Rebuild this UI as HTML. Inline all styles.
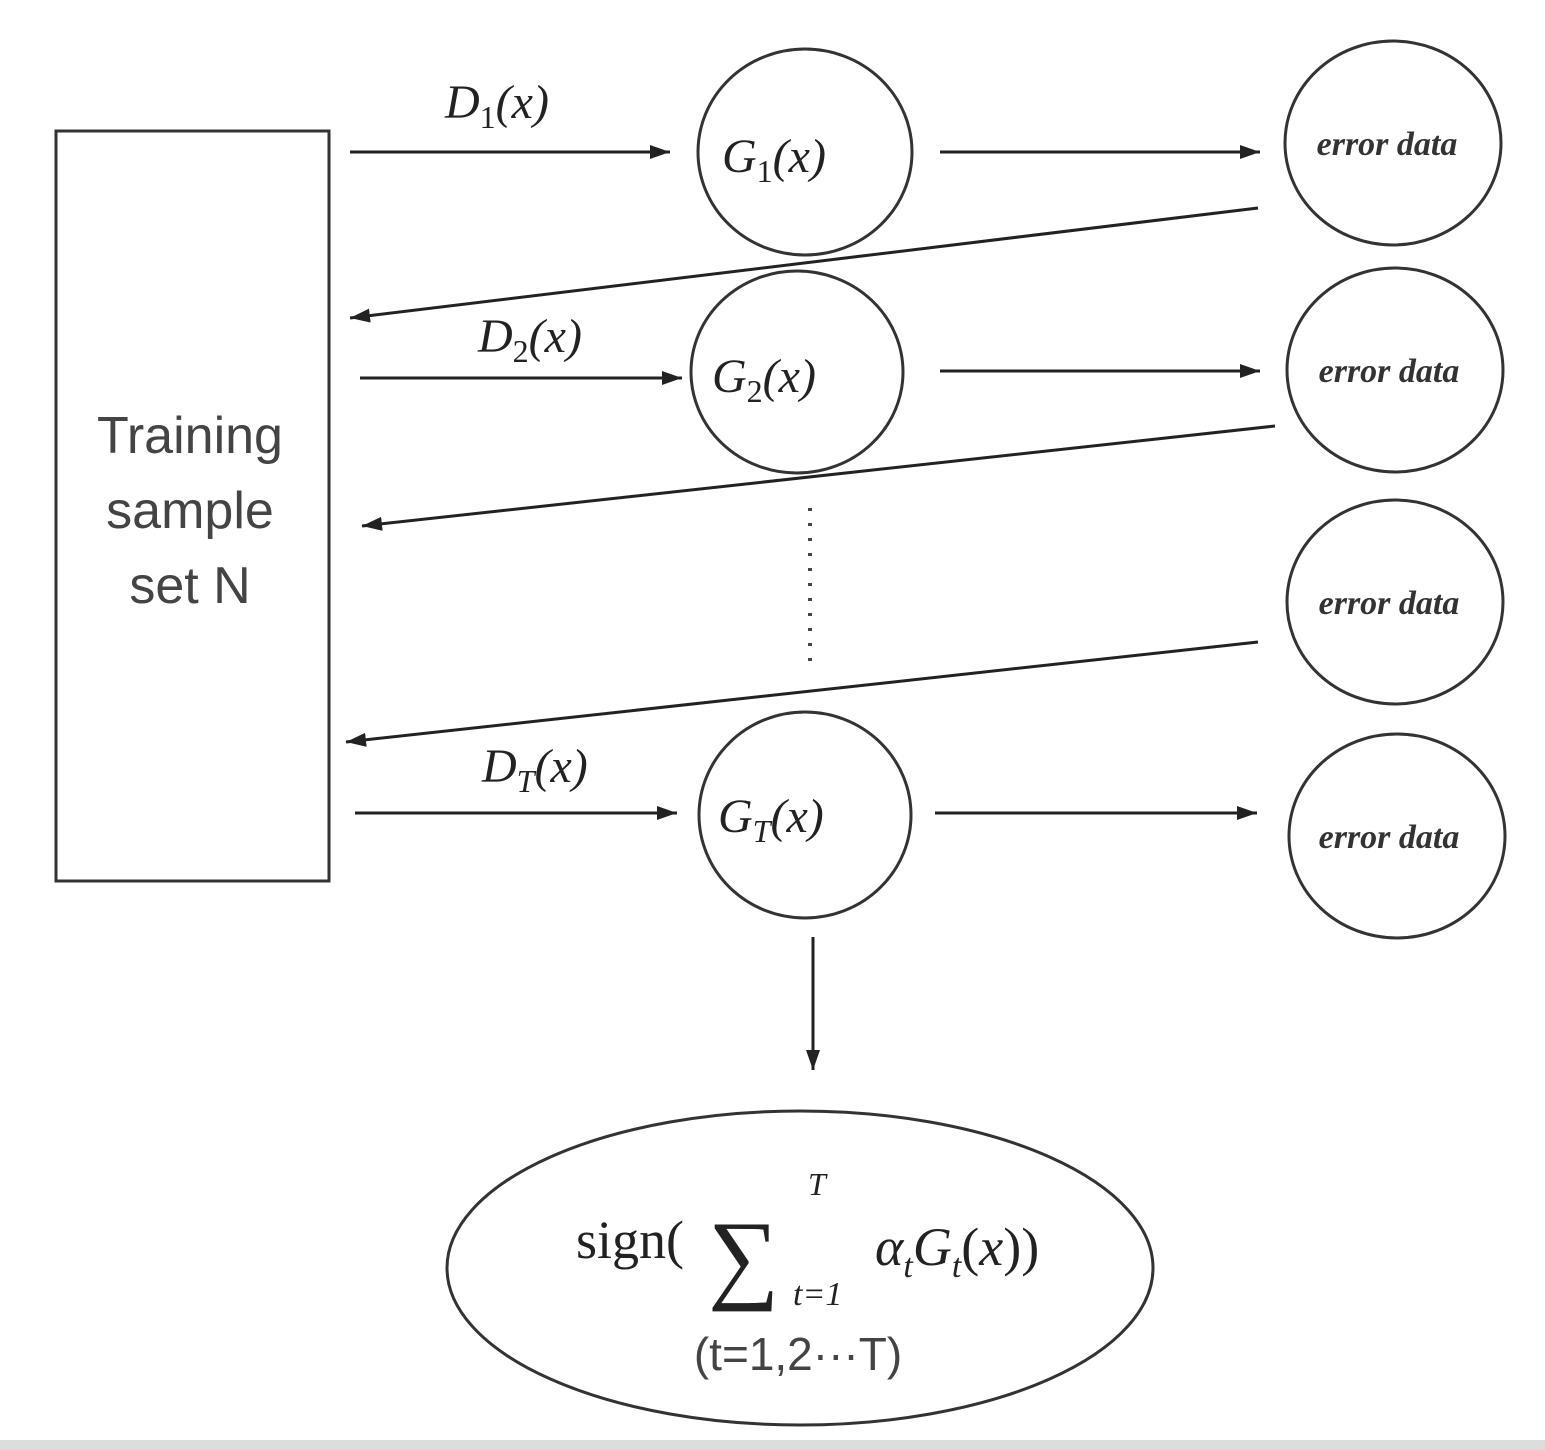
<!DOCTYPE html>
<html><head><meta charset="utf-8"><style>
html,body{margin:0;padding:0;background:#fff;}
svg{display:block}
.m{font-family:"Liberation Serif",serif;font-style:italic;fill:#222}
.e{font-family:"Liberation Serif",serif;font-style:italic;font-weight:bold;font-size:34px;fill:#333}
</style></head><body>
<svg width="1545" height="1450" viewBox="0 0 1545 1450" xmlns="http://www.w3.org/2000/svg">
<defs><marker id="a" markerWidth="10" markerHeight="10" refX="9" refY="5" orient="auto" markerUnits="userSpaceOnUse"><path d="M0,0 L22,5 L0,10 z" transform="scale(0.45 1)" fill="#222"/></marker>
<marker id="b" markerWidth="22" markerHeight="14" refX="20" refY="7" orient="auto" markerUnits="userSpaceOnUse"><path d="M0,0 L20,7 L0,14 z" fill="#222"/></marker></defs>
<g stroke="#333" stroke-width="3" fill="none">
<rect x="56" y="131" width="273" height="750"/>
<ellipse cx="805" cy="152" rx="107" ry="103"/>
<ellipse cx="797" cy="372" rx="106" ry="101"/>
<ellipse cx="805" cy="815" rx="106" ry="103"/>
<ellipse cx="1393" cy="143" rx="108" ry="102"/>
<ellipse cx="1395" cy="370" rx="108" ry="102"/>
<ellipse cx="1395" cy="602" rx="108" ry="102"/>
<ellipse cx="1397" cy="836" rx="108" ry="102"/>
<ellipse cx="800" cy="1268" rx="353" ry="157"/>
</g>
<g stroke="#222" stroke-width="3" fill="none" marker-end="url(#b)">
<line x1="350" y1="152" x2="670" y2="152"/>
<line x1="940" y1="152" x2="1260" y2="152"/>
<line x1="1258" y1="208" x2="350" y2="318"/>
<line x1="360" y1="378" x2="682" y2="378"/>
<line x1="940" y1="371" x2="1260" y2="371"/>
<line x1="1275" y1="426" x2="362" y2="526"/>
<line x1="1258" y1="642" x2="346" y2="742"/>
<line x1="355" y1="813" x2="677" y2="813"/>
<line x1="935" y1="813" x2="1257" y2="813"/>
<line x1="813" y1="937" x2="813" y2="1070"/>
</g>
<line x1="810" y1="508" x2="810" y2="668" stroke="#444" stroke-width="4" stroke-dasharray="3 12"/>
<g font-family="Liberation Sans,sans-serif" font-size="52" fill="#444" text-anchor="middle">
<text x="190" y="453">Training</text>
<text x="190" y="528">sample</text>
<text x="190" y="603">set N</text>
<text x="798" y="1370" font-size="46">(t=1,2···T)</text>
</g>
<g class="m" font-size="48">
<text x="445" y="118">D<tspan font-size="32" dy="10" font-style="normal">1</tspan><tspan dy="-10">(x)</tspan></text>
<text x="478" y="352">D<tspan font-size="32" dy="10" font-style="normal">2</tspan><tspan dy="-10">(x)</tspan></text>
<text x="482" y="782">D<tspan font-size="32" dy="10">T</tspan><tspan dy="-10">(x)</tspan></text>
<text x="722" y="172">G<tspan font-size="32" dy="10" font-style="normal">1</tspan><tspan dy="-10">(x)</tspan></text>
<text x="712" y="392">G<tspan font-size="32" dy="10" font-style="normal">2</tspan><tspan dy="-10">(x)</tspan></text>
<text x="718" y="832">G<tspan font-size="32" dy="10">T</tspan><tspan dy="-10">(x)</tspan></text>
</g>
<g class="e" text-anchor="middle">
<text x="1387" y="155">error data</text>
<text x="1389" y="382">error data</text>
<text x="1389" y="614">error data</text>
<text x="1389" y="848">error data</text>
</g>
<g font-family="Liberation Serif,serif" fill="#222">
<text x="576" y="1258" font-size="54">sign(</text>
<text x="708" y="1290" font-size="100">∑</text>
<text x="808" y="1195" font-size="32" font-style="italic">T</text>
<text x="793" y="1305" font-size="34" font-style="italic">t=1</text>
<text x="875" y="1265" font-size="54" font-style="italic">α<tspan font-size="34" dy="12">t</tspan><tspan dy="-12">G</tspan><tspan font-size="34" dy="12">t</tspan><tspan dy="-12" font-style="normal">(</tspan>x<tspan font-style="normal">))</tspan></text>
</g>
<rect x="0" y="1440" width="1545" height="10" fill="#ddd"/>
</svg>
</body></html>
